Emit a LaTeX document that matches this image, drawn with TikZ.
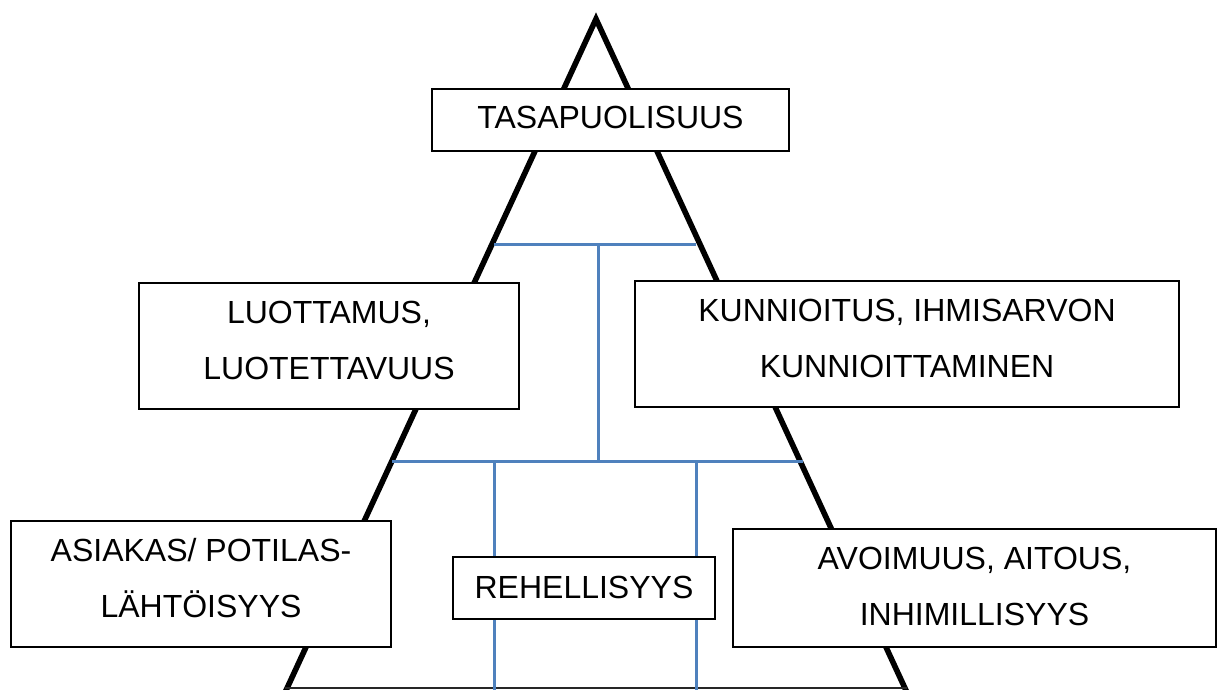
\documentclass[tikz,border=0pt]{standalone}
\usepackage{fontspec}
\setmainfont{Liberation Sans}
\definecolor{linkblue}{RGB}{79,129,189}
\begin{document}
\begin{tikzpicture}[x=1pt,y=-1pt,
  valuebox/.style={draw=black,line width=1.3pt,fill=white,rectangle,inner sep=0pt,outer sep=0pt},
  valuetext/.style={anchor=north,inner sep=0pt,align=center,font=\fontsize{32pt}{56pt}\selectfont},
  link/.style={draw=linkblue,line width=3pt},
  pyramid/.style={draw=black,line width=5.6pt,line join=miter},
  baseedge/.style={draw=black!85,line width=1.6pt}]
\useasboundingbox (0,0) rectangle (1218,689);
\clip (0,0) rectangle (1218,689);
% pyramid
\coordinate (apex) at (596,19);
\coordinate (bl) at (280.2,703);
\coordinate (br) at (911.8,703);
\coordinate (bl0) at (285,688.2);
\coordinate (br0) at (907,688.2);
\draw[pyramid] (bl) -- (apex) -- (br);
\draw[baseedge] (bl0) -- (br0);
% connector coordinates
\coordinate (h1l) at (494,244);
\coordinate (h1m) at (598,244);
\coordinate (h1r) at (696,244);
\coordinate (h2l) at (392,461);
\coordinate (h2a) at (494,461);
\coordinate (h2m) at (598,461);
\coordinate (h2b) at (696,461);
\coordinate (h2r) at (803,461);
\coordinate (e1) at (494,695);
\coordinate (e2) at (696,695);
\draw[link] (h1l) -- (h1r);
\draw[link] (h1m) -- (h2m);
\draw[link] (h2l) -- (h2r);
\draw[link] (h2a) -- (e1);
\draw[link] (h2b) -- (e2);
% boxes
\node[valuebox,minimum width=357pt,minimum height=62pt] (tasa) at (610.5,120) {};
\node[valuebox,minimum width=380pt,minimum height=126pt] (luo) at (329,346) {};
\node[valuebox,minimum width=544pt,minimum height=126pt] (kun) at (907,344) {};
\node[valuebox,minimum width=380pt,minimum height=126pt] (asi) at (201,584) {};
\node[valuebox,minimum width=262pt,minimum height=62pt] (reh) at (584,588) {};
\node[valuebox,minimum width=483pt,minimum height=118pt] (avo) at (974.5,588) {};
% texts
\node[valuetext] (tasa-t) at (610.5,106) {TASAPUOLISUUS};
\node[valuetext] (luo-t) at (329,300.7) {LUOTTAMUS,\\LUOTETTAVUUS};
\node[valuetext] (kun-t) at (907,299) {KUNNIOITUS, IHMISARVON\\KUNNIOITTAMINEN};
\node[valuetext] (asi-t) at (201,538.3) {ASIAKAS/ POTILAS-\\LÄHTÖISYYS};
\node[valuetext] (reh-t) at (584,576) {REHELLISYYS};
\node[valuetext] (avo-t) at (974.5,546.7) {AVOIMUUS, AITOUS,\\INHIMILLISYYS};
\end{tikzpicture}
\end{document}
